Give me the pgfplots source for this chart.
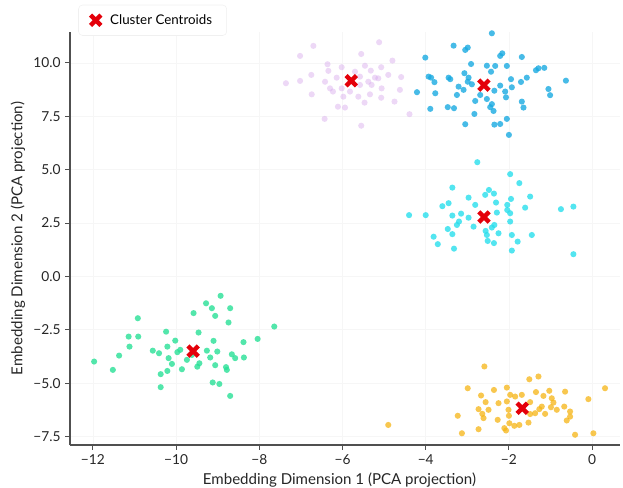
\documentclass[border=0pt]{standalone}
\usepackage{pgfplots}
\pgfplotsset{compat=1.18}
\usepackage{fontspec}
\setmainfont{Lato}
\definecolor{cpurple}{RGB}{214,168,236}
\definecolor{cblue}{RGB}{25,170,225}
\definecolor{ccyan}{RGB}{40,222,236}
\definecolor{cgreen}{RGB}{40,224,150}
\definecolor{corange}{RGB}{245,180,20}
\definecolor{cred}{RGB}{228,0,10}
\definecolor{spine}{RGB}{80,80,80}
\begin{document}
\begin{tikzpicture}
\useasboundingbox (-52.5pt,-31.5pt) rectangle (414.75pt,333.75pt);
\begin{axis}[
  scale only axis,
  width=412.5pt, height=309.75pt,
  xmin=-12.55, xmax=0.67, ymin=-7.9, ymax=11.45,
  axis x line*=bottom, axis y line*=left,
  axis line style={-, spine, line width=0.8pt},
  tick align=outside,
  major tick length=3.5pt,
  every tick/.style={spine, line width=0.7pt},
  xtick={-12,-10,-8,-6,-4,-2,0},
  xticklabels={−12,−10,−8,−6,−4,−2,0},
  ytick={-7.5,-5,-2.5,0,2.5,5,7.5,10},
  yticklabels={−7.5,−5.0,−2.5,0.0,2.5,5.0,7.5,10.0},
  tick label style={font=\fontsize{10.3}{12}\selectfont, text=black!85},
  grid=major,
  major grid style={gray!7, line width=0.5pt},
  xlabel={Embedding Dimension 1 (PCA projection)},
  ylabel={Embedding Dimension 2 (PCA projection)},
  label style={font=\fontsize{11.3}{13}\selectfont, text=black!85},
  xlabel style={at={(axis description cs:0.49,-0.085)}, anchor=center},
  ylabel style={at={(axis description cs:-0.0945,0.5)}, anchor=center},
  legend style={at={(axis description cs:0.015,1.066)}, anchor=north west,
    draw=gray!12, rounded corners=3pt, font=\fontsize{10}{12}\selectfont,
    inner xsep=9pt, inner ysep=5pt},
  legend cell align=left,
]
% purple cluster
\addplot[only marks, mark=*, mark size=2.3pt, draw opacity=0, fill=cpurple, fill opacity=0.45, forget plot] table {
x y
-6.70 10.80
-5.12 10.97
-7.02 10.33
-5.55 10.42
-4.80 10.11
-6.36 9.94
-6.02 9.80
-5.46 9.87
-5.07 9.80
-5.32 9.64
-6.75 9.44
-6.34 9.63
-7.36 9.05
-7.02 9.16
-6.42 9.12
-6.14 9.31
-5.58 9.36
-5.22 9.31
-4.90 9.44
-4.59 9.34
-6.23 8.66
-6.02 8.81
-5.58 8.97
-5.38 9.12
-5.06 8.81
-4.62 8.74
-6.74 8.53
-5.98 8.42
-5.34 8.53
-5.07 8.37
-5.62 8.42
-4.75 8.19
-6.11 7.95
-5.94 7.91
-5.47 8.14
-6.43 7.38
-5.55 7.06
-4.39 7.60
-5.30 8.97
-5.14 9.28
-5.82 8.66
-6.30 8.81
-5.70 9.59
};
% blue cluster
\addplot[only marks, mark=*, mark size=2.3pt, draw opacity=0, fill=cblue, fill opacity=0.8, forget plot] table {
x y
-2.41 11.39
-3.33 10.81
-3.05 10.61
-2.99 10.72
-4.01 10.25
-2.21 10.33
-2.16 10.45
-1.69 10.28
-2.91 9.95
-2.53 9.87
-2.33 9.86
-2.05 9.86
-2.43 9.59
-1.29 9.75
-1.15 9.77
-1.35 9.66
-3.07 9.52
-2.97 9.31
-3.93 9.36
-3.87 9.31
-3.79 9.10
-3.45 9.31
-3.41 9.24
-1.95 9.24
-1.57 9.31
-1.71 9.11
-0.63 9.17
-3.21 8.89
-2.89 9.00
-2.99 9.12
-2.21 8.94
-1.93 8.86
-3.25 8.50
-3.77 8.58
-2.35 8.70
-2.09 8.66
-2.07 8.39
-1.05 8.78
-1.01 8.49
-2.81 8.22
-2.53 8.31
-2.41 8.07
-2.45 7.93
-2.37 7.75
-1.69 8.19
-1.65 7.91
-3.89 7.85
-3.47 7.93
-3.32 7.88
-2.83 7.61
-3.05 7.13
-2.35 7.11
-2.21 7.14
-2.05 7.38
-2.00 6.63
-2.69 8.50
-3.09 8.74
-4.21 8.63
};
% cyan cluster
\addplot[only marks, mark=*, mark size=2.3pt, draw opacity=0, fill=ccyan, fill opacity=0.8, forget plot] table {
x y
-2.76 5.35
-1.97 4.79
-1.75 4.37
-3.36 4.16
-2.48 4.05
-2.36 3.88
-2.97 3.69
-1.49 3.74
-1.95 3.63
-2.31 3.46
-3.45 3.43
-3.60 3.29
-2.04 3.35
-1.61 3.22
-2.04 3.11
-0.75 3.15
-0.45 3.27
-4.40 2.87
-4.00 2.87
-3.36 2.85
-3.15 2.94
-2.97 2.75
-2.29 2.99
-1.97 2.96
-1.97 2.57
-3.25 2.41
-3.20 2.57
-3.47 2.22
-2.85 2.33
-2.35 2.41
-2.41 2.29
-3.36 1.98
-2.56 2.13
-2.53 1.94
-2.25 2.02
-1.93 1.94
-1.45 1.94
-3.81 1.86
-2.51 1.66
-2.36 1.56
-1.79 1.63
-3.71 1.51
-3.32 1.30
-1.93 1.21
-0.45 1.04
-2.57 3.82
-2.81 3.35
};
% green cluster
\addplot[only marks, mark=*, mark size=2.3pt, draw opacity=0, fill=cgreen, fill opacity=0.8, forget plot] table {
x y
-8.93 -0.91
-9.28 -1.26
-8.70 -1.49
-9.14 -1.49
-9.58 -1.72
-9.06 -1.85
-10.92 -1.96
-8.74 -2.16
-7.64 -2.35
-10.24 -2.59
-9.46 -2.63
-11.14 -2.82
-10.91 -2.82
-9.10 -3.02
-8.04 -2.93
-8.38 -3.08
-10.02 -3.01
-11.12 -3.29
-10.21 -3.29
-10.56 -3.48
-10.41 -3.60
-9.97 -3.55
-9.90 -3.44
-9.26 -3.48
-9.01 -3.52
-8.66 -3.65
-8.58 -3.83
-8.37 -3.80
-11.37 -3.71
-10.18 -3.83
-9.18 -3.80
-11.97 -3.99
-10.10 -4.10
-9.44 -4.07
-9.06 -4.16
-9.86 -4.35
-9.49 -4.23
-8.80 -4.25
-8.78 -4.38
-10.21 -4.43
-10.37 -4.58
-11.52 -4.38
-9.12 -4.97
-8.96 -5.04
-10.37 -5.19
-8.70 -5.60
-9.62 -3.68
-9.74 -3.91
};
% orange cluster
\addplot[only marks, mark=*, mark size=2.3pt, draw opacity=0, fill=corange, fill opacity=0.75, forget plot] table {
x y
-2.59 -4.22
-1.29 -4.69
-1.51 -4.82
-2.99 -5.24
-2.36 -5.32
-2.05 -5.21
-0.65 -5.40
0.31 -5.24
-2.67 -5.58
-1.97 -5.55
-1.69 -5.55
-1.35 -5.42
-1.03 -5.36
-1.17 -5.60
-0.97 -5.71
-0.09 -5.75
-2.56 -5.89
-2.25 -5.94
-2.05 -5.86
-1.49 -5.89
-0.93 -5.91
-1.21 -6.10
-0.99 -6.13
-0.67 -6.10
-2.73 -6.22
-2.49 -6.25
-2.01 -6.25
-1.27 -6.22
-0.53 -6.33
-2.64 -6.44
-2.61 -6.64
-2.00 -6.53
-1.49 -6.45
-1.13 -6.44
-0.85 -6.25
-3.23 -6.53
-2.27 -6.72
-1.53 -6.85
-0.61 -6.75
-0.53 -6.57
-1.99 -6.88
-2.11 -7.11
-2.07 -7.22
-1.87 -7.00
-1.75 -6.96
-4.90 -6.96
-2.73 -7.16
-3.13 -7.35
-0.41 -7.42
0.03 -7.35
-1.85 -5.63
-1.37 -6.41
};
% centroids
\addplot[only marks, mark=x, mark size=5.5pt, line width=3.3pt, cred] table {
x y
-5.79 9.17
-2.60 8.96
-2.60 2.78
-9.59 -3.50
-1.68 -6.18
};
\addlegendentry{\hspace{5pt}Cluster Centroids}
\end{axis}
\end{tikzpicture}
\end{document}
